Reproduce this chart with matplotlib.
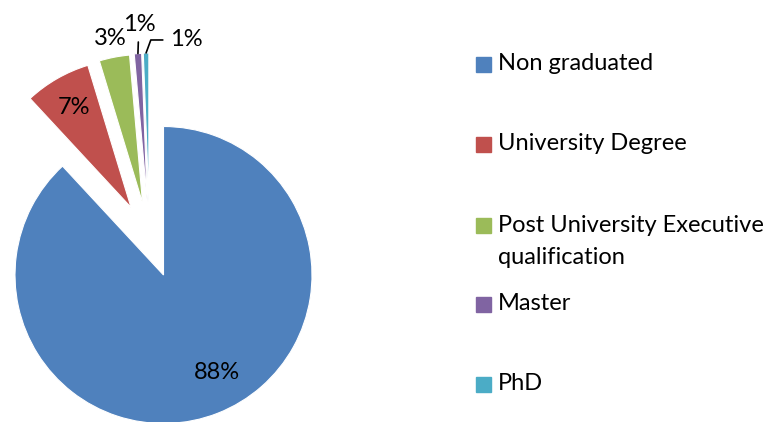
import numpy as np
import matplotlib
matplotlib.use('Agg')
import matplotlib.pyplot as plt
from matplotlib.patches import Rectangle

plt.rcParams['font.family'] = ['Lato', 'DejaVu Sans']

categories = ['Non graduated', 'University Degree',
              'Post University Executive\nqualification', 'Master', 'PhD']
shares = [88.1, 7.2, 3.3, 0.8, 0.6]
colors = ['#4F81BD', '#C0504D', '#9BBB59', '#8064A2', '#4BACC6']
explode = [0, 0.505, 0.505, 0.505, 0.505]

W, H = 773, 422
cx, cy, R = 163.5, 275, 148.5   # pie centre and radius in pixels

fig = plt.figure(figsize=(W / 100, H / 100), dpi=100)
ax = fig.add_axes([0, 0, 1, 1])
wedges, _ = ax.pie(shares, colors=colors, startangle=90,
                   counterclock=False, radius=1,
                   wedgeprops=dict(edgecolor='white', linewidth=0.8))
ax.set_xlim(-cx / R, (W - cx) / R)
ax.set_ylim(-(H - cy) / R, cy / R)
ax.set_aspect('auto')
ax.axis('off')

# pull the exploded slices out (excel style: towards the group middle)
out = [w for w, e in zip(wedges, explode) if e > 0]
gmid = 0.5 * (min(w.theta1 for w in out) + max(w.theta2 for w in out))
for w, e in zip(wedges, explode):
    if e > 0:
        mid = 0.5 * (w.theta1 + w.theta2)
        a = np.deg2rad(0.5 * (mid + gmid))
        w.set_center((e * np.cos(a), e * np.sin(a)))

fs = 17
for i, w in enumerate(wedges):
    lab = '%.0f%%' % shares[i]
    mid = np.deg2rad(0.5 * (w.theta1 + w.theta2))
    x0, y0 = w.center
    if i == 0:
        a = mid + np.deg2rad(7)
        ax.text(x0 + 0.75 * np.cos(a), y0 + 0.75 * np.sin(a), lab, fontsize=fs,
                ha='center', va='center')
    elif i == 1:
        ax.text(x0 + 0.775 * np.cos(mid), y0 + 0.775 * np.sin(mid), lab,
                fontsize=fs, ha='center', va='center')
    elif i == 2:
        ax.text(x0 + 1.13 * np.cos(mid), y0 + 1.13 * np.sin(mid), lab,
                fontsize=fs, ha='center', va='center')
    else:
        xe, ye = x0 + np.cos(mid), y0 + np.sin(mid)
        if i == 3:
            off = (1, 29)
            cs = 'arc3'
        else:
            off = (40, 13)
            cs = 'angle,angleA=180,angleB=70,rad=0'
        ax.annotate(lab, xy=(xe, ye), xytext=off, textcoords='offset pixels',
                    fontsize=fs, ha='center', va='center',
                    arrowprops=dict(arrowstyle='-', color='black', lw=1.2,
                                    shrinkA=3, shrinkB=0, connectionstyle=cs))

# legend drawn on a pixel-space overlay
lg = fig.add_axes([0, 0, 1, 1])
lg.set_xlim(0, W)
lg.set_ylim(H, 0)
lg.axis('off')
rows = [64, 144, 225, 304, 384]
for name, col, y in zip(categories, colors, rows):
    lg.add_patch(Rectangle((476, y - 7.5), 15, 15, color=col))
    for k, line in enumerate(name.split('\n')):
        lg.text(498, y + 32 * k, line, fontsize=fs, ha='left', va='center')

fig.savefig('out.png', dpi=100)
